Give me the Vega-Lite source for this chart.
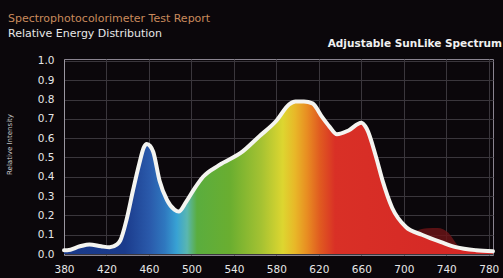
{
  "$schema": "https://vega.github.io/schema/vega-lite/v6.json",
  "width": 429,
  "height": 196,
  "autosize": {"type": "none"},
  "padding": {"left": 64, "top": 59, "right": 10, "bottom": 23},
  "background": "#0b070b",
  "config": {
    "view": {"stroke": "#8a8490", "strokeWidth": 1},
    "font": "DejaVu Sans"
  },
  "title": {
    "text": "Spectrophotocolorimeter Test Report",
    "subtitle": "Relative Energy Distribution",
    "anchor": "start",
    "frame": "group",
    "dx": -56,
    "offset": 0,
    "color": "#c98a5c",
    "fontSize": 11,
    "fontWeight": "normal",
    "subtitleColor": "#e8e8e8",
    "subtitleFontSize": 11,
    "subtitlePadding": 4
  },
  "datasets": {
    "spectrum": [
      {"nm": 380, "v": 0.02}, {"nm": 383, "v": 0.02}, {"nm": 395, "v": 0.04},
      {"nm": 404, "v": 0.05}, {"nm": 415, "v": 0.04}, {"nm": 423, "v": 0.035},
      {"nm": 430, "v": 0.05}, {"nm": 433, "v": 0.07}, {"nm": 439, "v": 0.18},
      {"nm": 445, "v": 0.33}, {"nm": 451, "v": 0.47}, {"nm": 455, "v": 0.55},
      {"nm": 458, "v": 0.57}, {"nm": 461, "v": 0.56}, {"nm": 464, "v": 0.53},
      {"nm": 470, "v": 0.38}, {"nm": 477, "v": 0.28}, {"nm": 484, "v": 0.23},
      {"nm": 488, "v": 0.22}, {"nm": 495, "v": 0.27}, {"nm": 503, "v": 0.34},
      {"nm": 511, "v": 0.40}, {"nm": 526, "v": 0.46}, {"nm": 548, "v": 0.53},
      {"nm": 564, "v": 0.61}, {"nm": 580, "v": 0.69}, {"nm": 592, "v": 0.775},
      {"nm": 598, "v": 0.79}, {"nm": 606, "v": 0.79}, {"nm": 614, "v": 0.78},
      {"nm": 623, "v": 0.71}, {"nm": 630, "v": 0.66}, {"nm": 637, "v": 0.62},
      {"nm": 648, "v": 0.64}, {"nm": 660, "v": 0.68}, {"nm": 665, "v": 0.65},
      {"nm": 674, "v": 0.50}, {"nm": 680, "v": 0.38}, {"nm": 689, "v": 0.24},
      {"nm": 702, "v": 0.14}, {"nm": 717, "v": 0.10}, {"nm": 736, "v": 0.06},
      {"nm": 749, "v": 0.036}, {"nm": 768, "v": 0.02}, {"nm": 784, "v": 0.015}
    ],
    "haze": [
      {"nm": 704, "v": 0.10}, {"nm": 712, "v": 0.12}, {"nm": 722, "v": 0.133},
      {"nm": 732, "v": 0.135}, {"nm": 742, "v": 0.11}, {"nm": 750, "v": 0.05},
      {"nm": 755, "v": 0.02}
    ],
    "label": [{"text": "Adjustable SunLike Spectrum", "nm": 784, "v": 1.07}]
  },
  "encoding": {
    "x": {
      "field": "nm", "type": "quantitative",
      "scale": {"domain": [380, 784], "nice": false, "zero": false},
      "axis": {
        "values": [380, 420, 460, 500, 540, 580, 620, 660, 700, 740, 780],
        "title": null, "ticks": false, "domain": false,
        "labelColor": "#e6e6e6", "labelFontSize": 10.5, "labelPadding": 9,
        "labelOverlap": false, "labelBound": false, "labelFlush": false,
        "gridColor": "#3a363c", "gridWidth": 1
      }
    },
    "y": {
      "field": "v", "type": "quantitative",
      "scale": {"domain": [-0.005, 1.01], "nice": false, "zero": false},
      "axis": {
        "values": [0, 0.1, 0.2, 0.3, 0.4, 0.5, 0.6, 0.7, 0.8, 0.9, 1],
        "tickCount": 11,
        "format": ".1f",
        "title": "Relative Intensity",
        "titleColor": "#d0d0d0", "titleFontSize": 7, "titleFontWeight": "normal",
        "titleX": -52, "titleY": 85, "titleAlign": "center", "titleAngle": -90,
        "ticks": false, "domain": true, "domainColor": "#9a96a0",
        "labelColor": "#e6e6e6", "labelFontSize": 10.5, "labelPadding": 10,
        "labelOverlap": false, "labelBound": false, "labelFlush": false,
        "gridColor": "#3a363c", "gridWidth": 1
      }
    }
  },
  "layer": [
    {
      "data": {"name": "haze"},
      "mark": {"type": "area", "interpolate": "monotone", "color": "#6e1416", "opacity": 0.8}
    },
    {
      "data": {"name": "spectrum"},
      "mark": {
        "type": "area",
        "interpolate": "monotone",
        "fill": {
          "gradient": "linear",
          "x1": 0, "x2": 1, "y1": 0, "y2": 0,
          "stops": [
            {"offset": 0, "color": "#1a3a8a"},
            {"offset": 0.142, "color": "#1b3b8c"},
            {"offset": 0.2, "color": "#2a5aab"},
            {"offset": 0.235, "color": "#2f78bf"},
            {"offset": 0.263, "color": "#38a2d4"},
            {"offset": 0.287, "color": "#5ab7b0"},
            {"offset": 0.31, "color": "#5aad3e"},
            {"offset": 0.387, "color": "#6aae30"},
            {"offset": 0.46, "color": "#a5c232"},
            {"offset": 0.51, "color": "#ddd630"},
            {"offset": 0.538, "color": "#e8b828"},
            {"offset": 0.566, "color": "#e88e22"},
            {"offset": 0.597, "color": "#e05a20"},
            {"offset": 0.632, "color": "#d93026"},
            {"offset": 1, "color": "#d42626"}
          ]
        }
      }
    },
    {
      "data": {"name": "spectrum"},
      "mark": {"type": "line", "interpolate": "monotone", "color": "#f4f4f0", "strokeWidth": 4, "strokeCap": "round", "strokeJoin": "round"}
    },
    {
      "data": {"name": "label"},
      "mark": {"type": "text", "align": "right", "baseline": "alphabetic", "dx": 9, "color": "#f0f0f0", "fontSize": 10.5, "fontWeight": "bold", "clip": false},
      "encoding": {
        "text": {"field": "text"}
      }
    }
  ]
}
